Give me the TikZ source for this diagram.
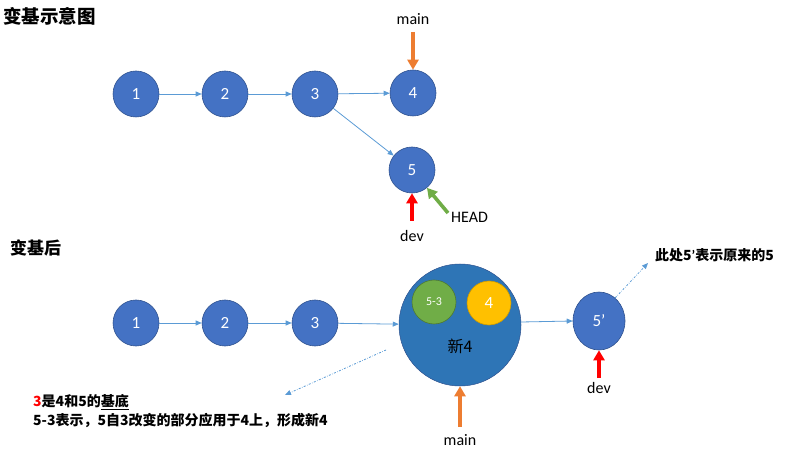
\documentclass[tikz,border=0pt]{standalone}
\usepackage{fontspec}
\setmainfont{Carlito}
\newfontfamily\cjk{Noto Sans CJK SC}
\newfontfamily\latn{Carlito}
\usetikzlibrary{arrows.meta,shapes.geometric}
\definecolor{nodeblue}{HTML}{4472C4}
\definecolor{nodeedge}{HTML}{2F528F}
\definecolor{bigblue}{HTML}{2E75B6}
\definecolor{linkblue}{HTML}{5B9BD5}
\definecolor{ggreen}{HTML}{70AD47}
\definecolor{gyellow}{HTML}{FFC000}
\definecolor{gorange}{HTML}{ED7D31}
\begin{document}
\begin{tikzpicture}[x=1pt,y=-1pt,
  commit/.style={circle,fill=nodeblue,draw=nodeedge,line width=0.6pt,minimum size=46pt,inner sep=0pt,text=white,font=\fontsize{17}{17}\selectfont},
  link/.style={draw=linkblue,line width=0.8pt,-{Triangle[width=5pt,length=6pt]}},
  dotlink/.style={draw=linkblue,line width=0.8pt,dash pattern=on 2pt off 1.5pt on 0.5pt off 1.5pt,-{Triangle[width=5pt,length=6pt]}},
  fat/.style={line width=3.6pt,-{Triangle[width=11pt,length=10pt]}},
  lbl/.style={font=\fontsize{16}{16}\selectfont,inner sep=0pt},
  title/.style={font=\cjk\bfseries\fontsize{17}{17}\selectfont,inner sep=0pt},
  note/.style={font=\cjk\bfseries\fontsize{14}{14}\selectfont,inner sep=0pt}]
\useasboundingbox (0,0) rectangle (787,462);
% top
\node[title,anchor=west,font=\cjk\bfseries\fontsize{18.5}{18.5}\selectfont] (t1) at (3,16) {变基示意图};
\node[commit] (a1) at (136,94) {1};
\node[commit] (a2) at (225,94) {2};
\node[commit] (a3) at (315,94) {3};
\node[commit] (a4) at (413,93) {4};
\node[commit] (a5) at (412,170) {5};
\draw[link] (a1) -- (a2);
\draw[link] (a2) -- (a3);
\draw[link] (a3) -- (a4);
\draw[link] (a3) -- (a5);
\node[lbl] (m1) at (413,19) {main};
\coordinate (m1s) at (413,32);
\draw[fat,gorange] (m1s) -- (a4.north);
\node[lbl] (d1) at (412,236) {dev};
\coordinate (d1s) at (412,221);
\draw[fat,red] (d1s) -- (a5.south);
\node[lbl,anchor=west] (h1) at (451,217) {HEAD};
\coordinate (h1s) at (448,213);
\draw[fat,ggreen] (h1s) -- (a5.-50);
% bottom
\node[title,anchor=west] (t2) at (10,248) {变基后};
\node[commit] (b1) at (136,323) {1};
\node[commit] (b2) at (225,323) {2};
\node[commit] (b3) at (315,323) {3};
\node[circle,fill=bigblue,draw=nodeedge,line width=0.5pt,minimum size=122pt,inner sep=0pt] (big) at (460,325) {};
\node[circle,fill=ggreen,draw=ggreen!70!black,line width=0.6pt,minimum size=44pt,inner sep=0pt,text=white,font=\fontsize{12}{12}\selectfont] (g) at (434,302) {5-3};
\node[circle,fill=gyellow,draw=gyellow!80!black,line width=0.6pt,minimum size=44pt,inner sep=0pt,text=white,font=\fontsize{17}{17}\selectfont] (y) at (489,303) {4};
\node[font=\cjk\fontsize{16}{16}\selectfont,inner sep=0pt] (n4) at (460,346) {新4};
\node[commit,ellipse,minimum width=52pt,minimum height=58pt] (b5) at (599,321) {5’};
\draw[link] (b1) -- (b2);
\draw[link] (b2) -- (b3);
\draw[link] (b3) -- (big);
\coordinate (be) at (521,322);
\draw[link] (be) -- (b5.west);
\node[lbl] (m2) at (460,440) {main};
\coordinate (m2s) at (460,427);
\draw[fat,gorange] (m2s) -- (big.south);
\node[lbl] (d2) at (599,388) {dev};
\coordinate (d2s) at (599,378);
\draw[fat,red] (d2s) -- (b5.south);
\coordinate (q1) at (648,263);
\draw[dotlink] (b5.55) -- (q1);
\node[note,anchor=west] (n1) at (655,255) {此处5{\latn\bfseries ’}表示原来的5};
\coordinate (p1) at (386,350);
\coordinate (p2) at (285,395);
\draw[dotlink] (p1) -- (p2);
\node[note,anchor=west] (n2) at (33,402) {\textcolor{red}{3}是4和5的\underline{基底}};
\node[note,anchor=west] (n3) at (33,420) {5-3表示，5自3改变的部分应用于4上，形成新4};
\end{tikzpicture}
\end{document}
